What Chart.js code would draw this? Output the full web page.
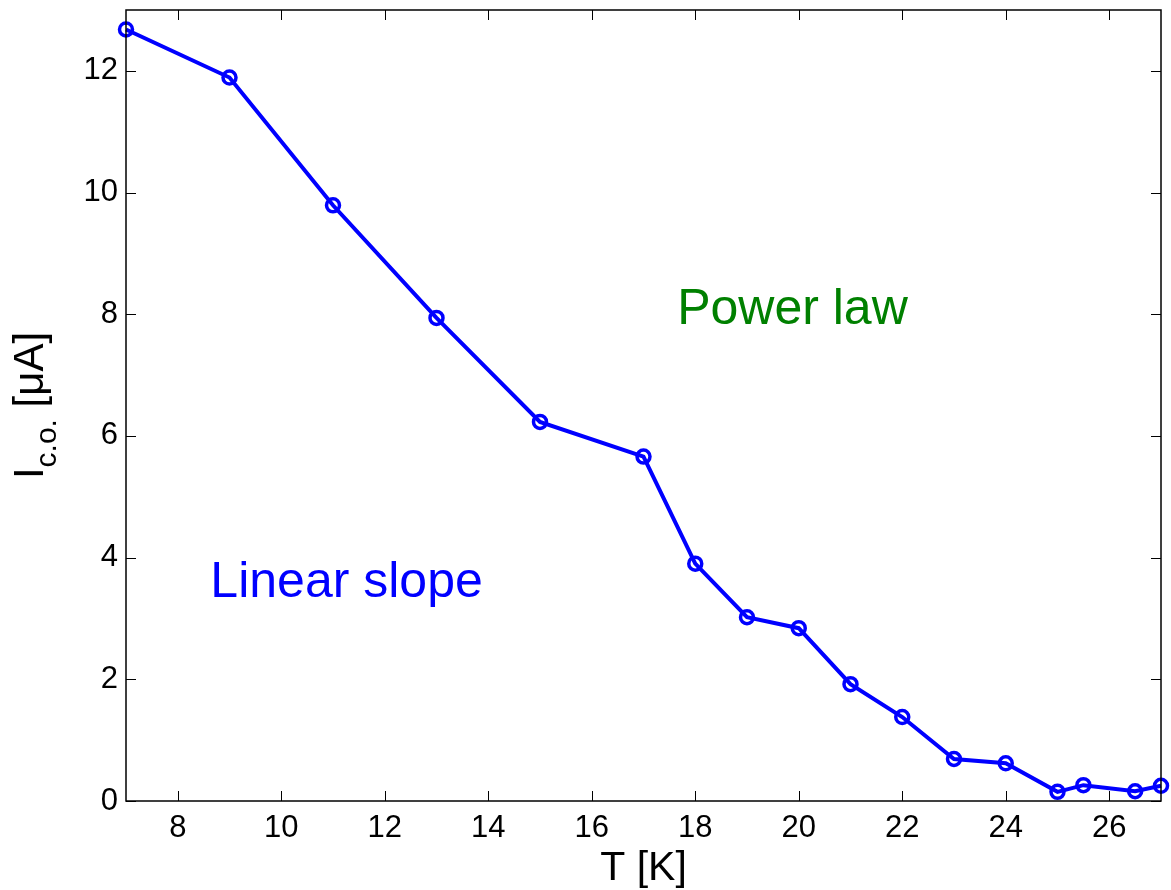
<!DOCTYPE html>
<html>
<head>
<meta charset="utf-8">
<script src="https://cdn.jsdelivr.net/npm/chart.js@4.4.0/dist/chart.umd.min.js"></script>
<style>
  html, body { margin: 0; padding: 0; background: #fff; }
  #wrap { width: 1171px; height: 890px; }
</style>
</head>
<body>
<div id="wrap"><canvas id="chart" width="1171" height="890"></canvas></div>
<script>
// Critical current vs temperature
var temps = [7, 9, 11, 13, 15, 17, 18, 19, 20, 21, 22, 23, 24, 25, 25.5, 26.5, 27];
var currents = [12.68, 11.89, 9.79, 7.94, 6.23, 5.66, 3.90, 3.02, 2.84, 1.92, 1.38, 0.69, 0.62, 0.15, 0.26, 0.16, 0.25];
var xTicks = [8, 10, 12, 14, 16, 18, 20, 22, 24, 26];
var yTicks = [0, 2, 4, 6, 8, 10, 12];

var fam = '"Liberation Sans", Arial, Helvetica, sans-serif';

// Box + inward ticks on all four sides, axis titles and the two text labels
var matlabAxes = {
    id: 'matlabAxes',
    afterDraw: function(chart) {
        var ctx = chart.ctx;
        var a = chart.chartArea;
        var xs = chart.scales.x, ys = chart.scales.y;
        var tl = 10;
        ctx.save();
        ctx.strokeStyle = '#000';
        ctx.lineWidth = 1.5;
        ctx.strokeRect(a.left, a.top, a.right - a.left, a.bottom - a.top);
        ctx.lineWidth = 1;
        ctx.beginPath();
        xTicks.forEach(function(v) {
            var px = Math.round(xs.getPixelForValue(v)) + 0.5;
            ctx.moveTo(px, a.bottom); ctx.lineTo(px, a.bottom - tl);
            ctx.moveTo(px, a.top); ctx.lineTo(px, a.top + tl);
        });
        yTicks.forEach(function(v) {
            var py = Math.round(ys.getPixelForValue(v)) + 0.5;
            ctx.moveTo(a.left, py); ctx.lineTo(a.left + tl, py);
            ctx.moveTo(a.right, py); ctx.lineTo(a.right - tl, py);
        });
        ctx.stroke();

        // x title
        ctx.fillStyle = '#000';
        ctx.textAlign = 'center';
        ctx.textBaseline = 'alphabetic';
        ctx.font = '41px ' + fam;
        ctx.fillText('T [K]', (a.left + a.right) / 2, 880);

        // y title with subscript, rotated
        ctx.save();
        ctx.translate(43, (a.top + a.bottom) / 2);
        ctx.rotate(-Math.PI / 2);
        ctx.textAlign = 'left';
        var big = '42px ' + fam, small = '30px ' + fam;
        ctx.font = big; var w1 = ctx.measureText('I').width;
        ctx.font = small; var w2 = ctx.measureText('c.o.').width;
        ctx.font = big; var w3 = ctx.measureText(' [\u03bcA]').width;
        var x0 = -(w1 + w2 + w3) / 2;
        ctx.font = big; ctx.fillText('I', x0, 0);
        ctx.font = small; ctx.fillText('c.o.', x0 + w1, 13);
        ctx.font = big; ctx.fillText(' [\u03bcA]', x0 + w1 + w2, 0);
        ctx.restore();

        // annotations
        ctx.font = '50px ' + fam;
        ctx.textAlign = 'left';
        ctx.fillStyle = '#008000';
        ctx.fillText('Power law', xs.getPixelForValue(17.65), ys.getPixelForValue(7.84));
        ctx.fillStyle = '#0000ff';
        ctx.fillText('Linear slope', xs.getPixelForValue(8.63), ys.getPixelForValue(3.35));
        ctx.restore();
    }
};

var ctx = document.getElementById('chart').getContext('2d');
var chart = new Chart(ctx, {
    type: 'line',
    data: {
        datasets: [{
            data: temps.map(function(t, i) { return { x: t, y: currents[i] }; }),
            borderColor: '#0000ff',
            borderWidth: 4,
            backgroundColor: 'transparent',
            pointRadius: 6.5,
            pointBorderWidth: 3.5,
            pointBorderColor: '#0000ff',
            pointBackgroundColor: 'transparent',
            tension: 0,
            clip: false
        }]
    },
    options: {
        responsive: false,
        animation: false,
        layout: { padding: { top: 8, right: 5, left: 0, bottom: 0 } },
        plugins: { legend: { display: false }, tooltip: { enabled: false } },
        scales: {
            x: {
                type: 'linear',
                min: 7, max: 27,
                afterBuildTicks: function(s) { s.ticks = xTicks.map(function(v) { return { value: v }; }); },
                afterFit: function(s) { s.height = 89; s.paddingLeft = 0; s.paddingRight = 0; },
                grid: { display: false, drawTicks: false },
                border: { display: false },
                ticks: { color: '#000', padding: 9, maxRotation: 0, font: { family: fam, size: 31 } }
            },
            y: {
                type: 'linear',
                min: 0, max: 13,
                afterBuildTicks: function(s) { s.ticks = yTicks.map(function(v) { return { value: v }; }); },
                afterFit: function(s) { s.width = 126; s.paddingTop = 0; s.paddingBottom = 0; },
                grid: { display: false, drawTicks: false },
                border: { display: false },
                ticks: { color: '#000', padding: 8, font: { family: fam, size: 31 } }
            }
        }
    },
    plugins: [matlabAxes]
});
</script>
</body>
</html>
